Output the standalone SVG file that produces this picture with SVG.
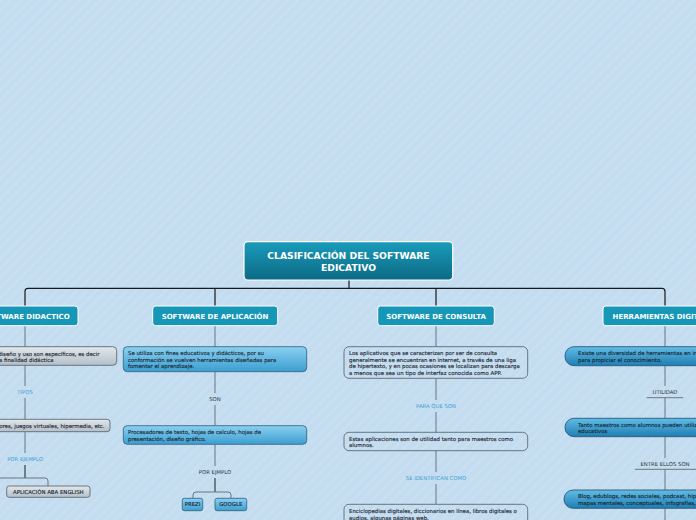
<svg xmlns="http://www.w3.org/2000/svg" width="696" height="520" viewBox="0 0 696 520">
<defs>
<pattern id="stripes" width="7" height="7" patternUnits="userSpaceOnUse" patternTransform="rotate(45)">
<rect width="7" height="7" fill="#c3dcef"/>
<rect width="1.6" height="7" fill="#cbe1f2"/>
</pattern>
<linearGradient id="gRoot" x1="0" y1="0" x2="0" y2="1">
<stop offset="0" stop-color="#1a9bbb"/>
<stop offset="1" stop-color="#0c6a84"/>
</linearGradient>
<linearGradient id="gGray" x1="0" y1="0" x2="0" y2="1">
<stop offset="0" stop-color="#e2e8ec"/>
<stop offset="1" stop-color="#b4bfc8"/>
</linearGradient>
<linearGradient id="gBlue" x1="0" y1="0" x2="0" y2="1">
<stop offset="0" stop-color="#8ad0f1"/>
<stop offset="1" stop-color="#3c9ed0"/>
</linearGradient>
<linearGradient id="gDeep" x1="0" y1="0" x2="0" y2="1">
<stop offset="0" stop-color="#62bde6"/>
<stop offset="1" stop-color="#1e7eb3"/>
</linearGradient>
</defs>
<style>
.t{font-family:"DejaVu Sans",Verdana,sans-serif;}
.root{fill:url(#gRoot);stroke:#ffffff;stroke-width:1.2;}
.l1{fill:#1697b8;stroke:#ffffff;stroke-width:1;}
.l1t{font-family:"DejaVu Sans",Verdana,sans-serif;font-size:7px;font-weight:bold;fill:#ffffff;text-anchor:middle;}
.gray{fill:url(#gGray);stroke:#5e6a75;stroke-width:0.9;}
.blue{fill:url(#gBlue);stroke:#3b6a86;stroke-width:0.9;}
.deep{fill:url(#gDeep);stroke:#2a5a78;stroke-width:0.9;}
.plain{fill:none;stroke:#5a6a78;stroke-width:0.9;}
.bt{font-family:"DejaVu Sans",Verdana,sans-serif;font-size:5.4px;fill:#1a2430;stroke:#1a2430;stroke-width:0.12;}
.lb{font-family:"DejaVu Sans",Verdana,sans-serif;font-size:5.3px;fill:#3c9fd2;text-anchor:middle;}
.ld{font-family:"DejaVu Sans",Verdana,sans-serif;font-size:5.3px;fill:#2a3440;text-anchor:middle;}
.main{fill:none;stroke:#151a1f;stroke-width:1.2;}
.sub{fill:none;stroke:#6a7783;stroke-width:1;}
.subk{fill:none;stroke:#4a5560;stroke-width:1.4;}
</style>
<rect width="696" height="520" fill="url(#stripes)"/>

<g id="connectors">
<path class="main" d="M349 280 V288.3"/>
<path class="main" d="M25 306 V291.3 Q25 288.3 28 288.3 H662 Q665 288.3 665 291.3 V306"/>
<path class="main" d="M215 288.3 V306"/>
<path class="main" d="M436 288.3 V306"/>
<path class="sub" d="M25 325.7 V347"/>
<path class="sub" d="M25 365 V386"/>
<path class="sub" d="M25 398 V419.3"/>
<path class="sub" d="M25 431.7 V453"/>
<path class="subk" d="M25 465 V478"/>
<path class="sub" d="M0 478 H45 Q48 478 48 481 V486"/>
<path class="sub" d="M215 325.7 V347"/>
<path class="sub" d="M215 372 V393"/>
<path class="sub" d="M215 405 V425.7"/>
<path class="sub" d="M215 444.3 V466"/>
<path class="subk" d="M215 478 V492"/>
<path class="sub" d="M193 498.3 V495 Q193 492 196 492 H228 Q231 492 231 495 V498.3"/>
<path class="sub" d="M436 325.7 V347"/>
<path class="sub" d="M436 378.3 V400"/>
<path class="sub" d="M436 412 V432.3"/>
<path class="sub" d="M436 450.7 V472"/>
<path class="sub" d="M436 484 V504.3"/>
<path class="sub" d="M665 325.7 V347"/>
<path class="sub" d="M665 366 V386"/>
<path class="sub" d="M646.7 397.7 H683.3 M665 397.7 V418.3"/>
<path class="sub" d="M665 436.7 V458"/>
<path class="sub" d="M635 469.3 H696 M665 469.3 V490"/>
<path class="sub" d="M665 508.3 V520"/>
</g>

<g id="root">
<rect class="root" x="244" y="241.7" width="208.7" height="38.3" rx="4"/>
<text class="t" x="348.5" y="259.2" font-size="9.2" font-weight="bold" fill="#ffffff" text-anchor="middle">CLASIFICACIÓN DEL SOFTWARE</text>
<text class="t" x="348.5" y="271" font-size="9.2" font-weight="bold" fill="#ffffff" text-anchor="middle">EDICATIVO</text>
</g>

<g id="n-didactico">
<rect class="l1" x="-28" y="306" width="106" height="19.7" rx="3"/>
<text class="l1t" x="25" y="318.5">SOFTWARE DIDACTICO</text>
</g>
<g id="n-aplicacion">
<rect class="l1" x="152.7" y="306" width="125" height="19.7" rx="3"/>
<text class="l1t" x="215" y="318.5">SOFTWARE DE APLICACIÓN</text>
</g>
<g id="n-consulta">
<rect class="l1" x="377.7" y="306" width="116.6" height="19.7" rx="3"/>
<text class="l1t" x="436" y="318.5">SOFTWARE DE CONSULTA</text>
</g>
<g id="n-herramientas">
<rect class="l1" x="603" y="306" width="124" height="19.7" rx="3"/>
<text class="l1t" x="665" y="318.5">HERRAMIENTAS DIGITALES</text>
</g>

<g id="n-did-desc">
<rect class="gray" x="-60" y="346.7" width="176.7" height="18.6" rx="4"/>
<text class="bt" x="99.5" y="355.5" text-anchor="end">Software cuyo diseño y uso son específicos, es decir</text>
<text class="bt" x="53.5" y="361.8" text-anchor="end">con una finalidad didáctica</text>
</g>
<g id="l-tipos"><text class="lb" x="25" y="394">TIPOS</text></g>
<g id="n-did-tipos">
<rect class="gray" x="-60" y="419.3" width="170" height="12.4" rx="3"/>
<text class="bt" x="104.5" y="427.6" text-anchor="end">Tutoriales, simuladores, juegos virtuales, hipermedia, etc.</text>
</g>
<g id="l-porejemplo1"><text class="lb" x="25" y="461">POR EJEMPLO</text></g>
<g id="n-aba">
<rect class="gray" x="6.7" y="486" width="83.3" height="11.3" rx="2.5"/>
<text class="bt" x="48.3" y="493.7" text-anchor="middle">APLICACIÓN ABA ENGLISH</text>
</g>

<g id="n-apl-desc">
<rect class="blue" x="123.3" y="346.7" width="183.4" height="25" rx="4"/>
<text class="bt" x="128" y="355.2">Se utiliza con fines educativos y didácticos, por su</text>
<text class="bt" x="128" y="361.6">conformación se vuelven herramientas diseñadas para</text>
<text class="bt" x="128" y="368">fomentar el aprendizaje.</text>
</g>
<g id="l-son"><text class="ld" x="215" y="401">SON</text></g>
<g id="n-apl-son">
<rect class="blue" x="123.3" y="425.7" width="183.4" height="18.6" rx="4"/>
<text class="bt" x="128" y="434.2">Procesadores de texto, hojas de calculo, hojas de</text>
<text class="bt" x="128" y="440.6">presentación, diseño gráfico.</text>
</g>
<g id="l-porejmplo"><text class="ld" x="215" y="474">POR EJMPLO</text></g>
<g id="n-prezi">
<rect class="blue" x="182.3" y="498.3" width="20.4" height="12.4" rx="2"/>
<text class="bt" x="192.5" y="506.4" text-anchor="middle" font-size="5.2" fill="#2a3a4a">PREZI</text>
</g>
<g id="n-google">
<rect class="blue" x="215" y="498.3" width="31.7" height="12.4" rx="2"/>
<text class="bt" x="230.8" y="506.4" text-anchor="middle" font-size="5.2" fill="#2a3a4a">GOOGLE</text>
</g>

<g id="n-con-desc">
<rect class="plain" x="344" y="346.7" width="183.7" height="31.6" rx="5"/>
<text class="bt" x="349" y="355">Los aplicativos que se caracterizan por ser de consulta</text>
<text class="bt" x="349" y="361.5">generalmente se encuentran en internet, a través de una liga</text>
<text class="bt" x="349" y="368">de hipertexto, y en pocas ocasiones se localizan para descarga</text>
<text class="bt" x="349" y="374.5">a menos que sea un tipo de interfaz conocida como APP.</text>
</g>
<g id="l-paraqueson"><text class="lb" x="436" y="408">PARA QUE SON</text></g>
<g id="n-con-util">
<rect class="plain" x="344" y="432.3" width="183.7" height="18.4" rx="5"/>
<text class="bt" x="349" y="440.5">Estas aplicaciones son de utilidad tanto para maestros como</text>
<text class="bt" x="349" y="447">alumnos.</text>
</g>
<g id="l-seidentifican"><text class="lb" x="436" y="480">SE IDENTIFICAN COMO</text></g>
<g id="n-con-ej">
<rect class="plain" x="344" y="504.3" width="183.7" height="30" rx="5"/>
<text class="bt" x="349" y="513">Enciclopedias digitales, diccionarios en línea, libros digitales o</text>
<text class="bt" x="349" y="519.5">audios, algunas páginas web.</text>
</g>

<g id="n-her-desc">
<rect class="deep" x="565" y="346.7" width="200" height="19" rx="9"/>
<text class="bt" x="578" y="355">Existe una diversidad de herramientas en internet que se utilizan</text>
<text class="bt" x="578" y="361.5">para propiciar el conocimiento.</text>
</g>
<g id="l-utilidad"><text class="ld" x="665" y="394">UTILIDAD</text></g>
<g id="n-her-util">
<rect class="deep" x="565" y="418.3" width="200" height="18.4" rx="9"/>
<text class="bt" x="578" y="426.5">Tanto maestros como alumnos pueden utilizar estos recursos</text>
<text class="bt" x="578" y="433">educativos</text>
</g>
<g id="l-entreellos"><text class="ld" x="665" y="466">ENTRE ELLOS SON</text></g>
<g id="n-her-ej">
<rect class="deep" x="564" y="490" width="200" height="18.3" rx="9"/>
<text class="bt" x="578" y="498">Blog, edublogs, redes sociales, podcast, hipervínculos,</text>
<text class="bt" x="578" y="504.5">mapas mentales, conceptuales, infografías, etc.</text>
</g>
</svg>
